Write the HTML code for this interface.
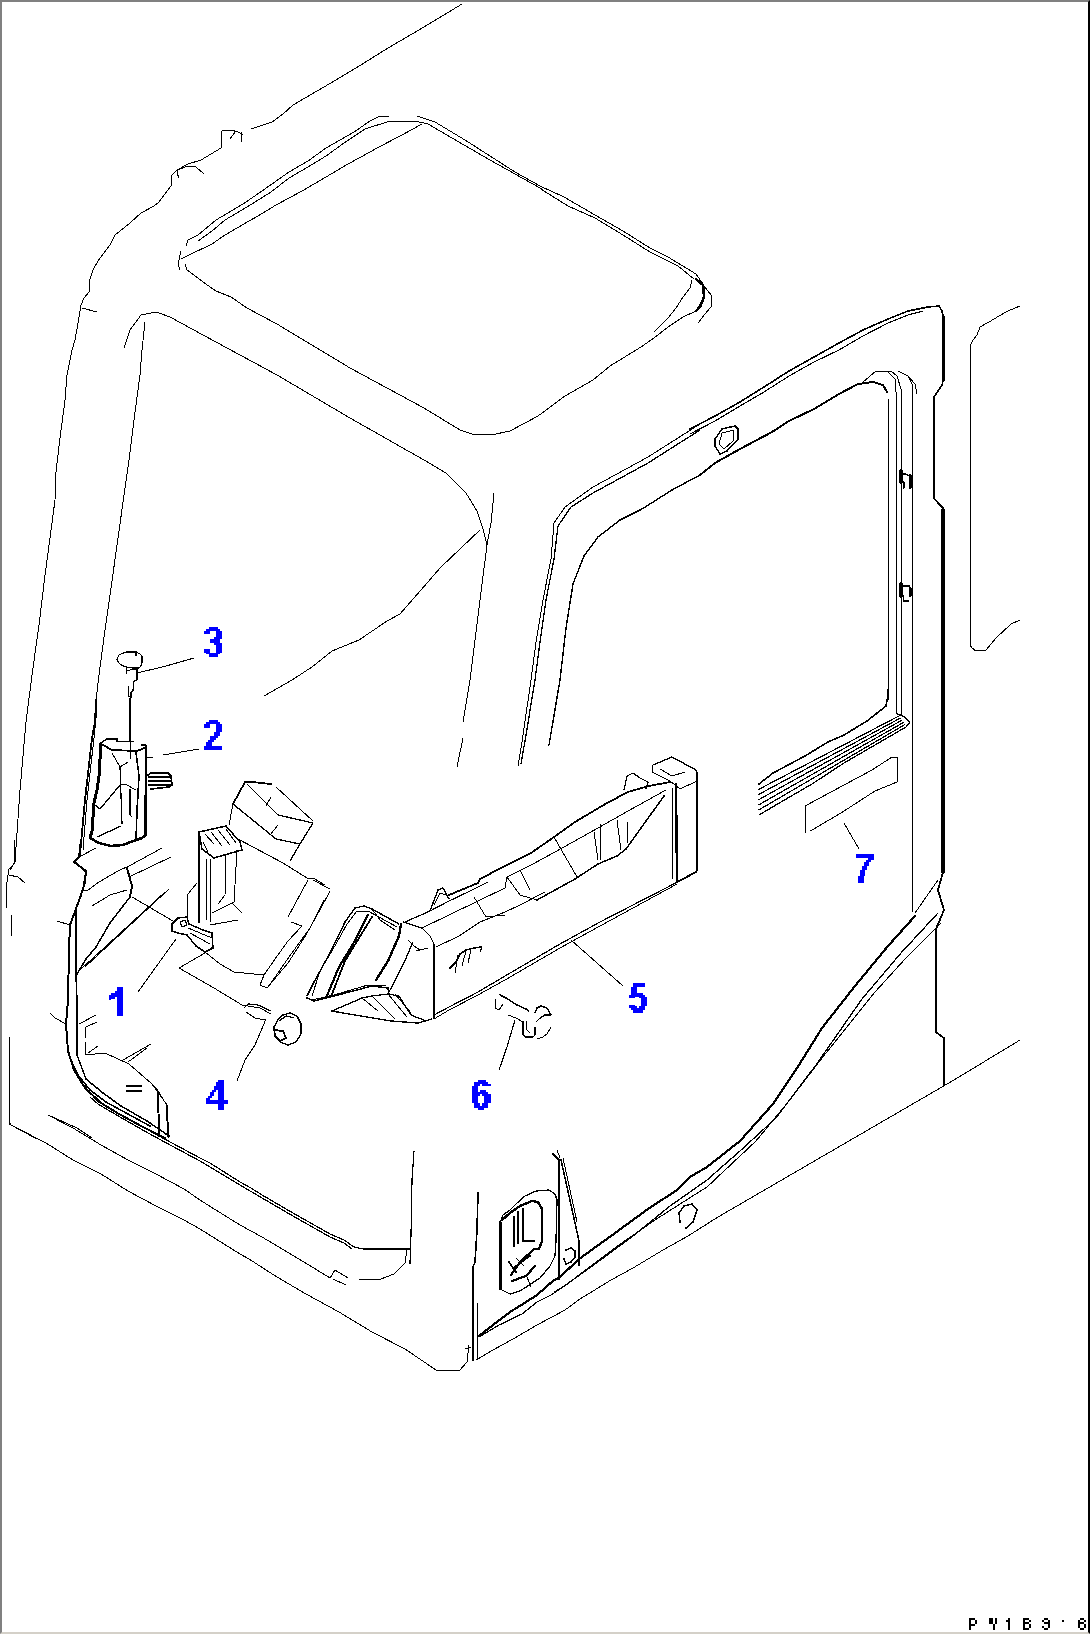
<!DOCTYPE html><html><head><meta charset="utf-8"><style>html,body{margin:0;padding:0;background:#fff}#c{position:relative;width:1090px;height:1634px;overflow:hidden;box-sizing:border-box;border-top:2px solid #808080;border-left:2px solid #808080;border-right:2px solid #000;border-bottom:2px solid #d4d0c8}svg{position:absolute;left:-2px;top:-2px}.n{font-family:"Liberation Sans",sans-serif;font-weight:bold;fill:#0000ff;font-size:42px}</style></head><body><div id="c"><svg width="1090" height="1634" viewBox="0 0 1090 1634"><g fill="none" stroke="#000" stroke-linejoin="round" stroke-linecap="round" shape-rendering="crispEdges">
<polyline points="462,4 419,30 388,48 356,68 324,87 293,105 283,114 272,122 251,129" stroke-width="1.0"/>
<polyline points="243,135 238,132 231,130 222,131 221,132 221,140" stroke-width="1.0"/>
<polyline points="241,132 241,142" stroke-width="1.0"/>
<polyline points="230,139 235,132" stroke-width="1.0"/>
<polyline points="177,173 178,170 187,166 196,167 204,174" stroke-width="1.0"/>
<polyline points="177,173 179,178" stroke-width="1.0"/>
<polyline points="221,140 221,148 201,160 188,164 177,170 172,175 171,186 168,190 159,202 154,206 141,213 130,223 115,235 110,245 98,261 93,270 90,279 89,292 84,298 81,305 78,323 75,340 72,350 67,375 65,400 60,438 56,472 55,500 50,538 45,575 39,625 32,675 26,722 20,790 15,862 10,870" stroke-width="1.0"/>
<polyline points="82,308 97,312" stroke-width="1.0"/>
<polyline points="186,246 188,240 198,235 216,220 243,204 262,191 289,172 308,161 326,148 354,132 370,121 380,116 389,116" stroke-width="1.0"/>
<polyline points="417,116 435,122 465,140 515,172 540,186 564,197 595,215 623,231 650,248 668,257 696,274 703,284" stroke-width="1.0"/>
<polyline points="198,241 212,231 225,220 247,207 271,192 289,178 308,167 326,156 344,143 365,129 390,121 415,121 428,124 452,138 490,160 540,188 544,191 568,206 595,218 623,235 650,252 678,266 694,279" stroke-width="1.0"/>
<polyline points="181,259 187,256 212,244 225,235 249,221 258,216 276,205 302,191 326,177 348,164 370,152 377,148 402,135 422,124" stroke-width="1.0"/>
<polyline points="181,251 178,264 180,270" stroke-width="1.0"/>
<polyline points="185,264 187,270 194,275 203,282 216,291 231,297 247,308 260,315 277,324 350,368 424,408 460,430 472,434 491,435 510,431 538,416 565,396 593,380 610,366 641,347 654,338 668,327 683,317 696,311 704,297 703,285" stroke-width="1.0"/>
<polyline points="703,285 712,296 711,307 705,314 698,323" stroke-width="1.0"/>
<polyline points="696,279 703,285 704,297 700,307 696,311" stroke-width="2.5"/>
<polyline points="692,280 690,288 683,297 676,308 668,318 654,332" stroke-width="1.0"/>
<polyline points="124,348 130,330 141,315 156,312 170,317 203,335 277,375 350,418 424,460 446,473 466,493 477,511 483,529 487,545" stroke-width="1.0"/>
<polyline points="145,322 142,350 140,375 135,412 129,460 125,488 118,538 111,588 105,630 99,675 96,700" stroke-width="1.0"/>
<polyline points="96,700 95,722 92,738 85,800 80,855 75,862 86,872 84,883" stroke-width="1.8"/>
<polyline points="97,708 94,738 87,800 83,850" stroke-width="1.0"/>
<polyline points="494,493 491,523 487,545 480,600 470,680 463,722" stroke-width="1.0"/>
<polyline points="463,738 457,767" stroke-width="1.0"/>
<polyline points="480,530 441,567 400,614 387,621 359,640 332,651 312,667 292,680 264,696" stroke-width="1.0"/>
<polyline points="700,424 648,457 593,487 565,507 554,523 551,559 543,600 536,642 531,680 522,742 518,766" stroke-width="1.0"/>
<polyline points="700,430 648,463 593,493 571,507 558,526 554,559 546,600 540,642 535,680 526,735 521,764" stroke-width="1.3"/>
<polyline points="700,475 672,490 642,509 620,520 598,537 584,556 573,584 566,628 560,680 549,745" stroke-width="1.4"/>
<polyline points="690,429 715,416 740,402 764,387 789,371 814,357 839,343 863,330 888,319 908,311 928,307 939,306 942,311 943,316 943,381 942,385 936,394 934,397 934,498 938,503 943,508 943,872" stroke-width="1.6"/>
<polyline points="943,510 943,872" stroke-width="3.5"/>
<polyline points="943.5,316 943.5,381" stroke-width="2"/>
<polyline points="690,434 715,421 740,406 764,392 789,376 814,362 839,350 863,336 888,323 908,315 923,311" stroke-width="1.1"/>
<polyline points="700,475 715,463 740,449 772,432 789,421 814,409 839,394 858,384 873,382 883,385 887,392" stroke-width="2"/>
<polyline points="888,399 888,690" stroke-width="1.0"/>
<polyline points="863,382 876,371 891,371 897,376 901,389 902,716" stroke-width="1.0"/>
<polyline points="888,372 895,379 896,392 896,714" stroke-width="1.0"/>
<polyline points="898,371 908,376 912,384 912,912" stroke-width="1.0"/>
<polyline points="908,376 915,384 917,394" stroke-width="1.0"/>
<polyline points="715,439 722,429 735,426 738,429 738,439 727,451 720,454 715,446 715,439" stroke-width="1.5"/>
<polyline points="722,433 734,430 733,441 724,449 719,444 722,433" stroke-width="1.0"/>
<polyline points="1020,306 1008,311 999,316 989,322 980,327 977,335 973,340 970,346 970,645 972,648 976,651 986,650 996,638 1011,624 1020,620" stroke-width="1.0"/>
<polyline points="888,690 888,699 887,700 886,706 867,721 844,735 828,742 805,756 773,773 759,784" stroke-width="1.6"/>
<polyline points="759,815 781,802 812,784 844,763 875,745 906,727 910,722 903,716 897,714" stroke-width="1.3"/>
<polyline points="759,789.2 898.5,716.2" stroke-width="1.2"/>
<polyline points="759,794.3 900.0,718.3" stroke-width="1.2"/>
<polyline points="759,799.5 901.5,720.5" stroke-width="1.2"/>
<polyline points="759,804.7 903.0,722.7" stroke-width="1.2"/>
<polyline points="759,809.8 904.5,724.8" stroke-width="1.2"/>
<polyline points="805,833 805,806 844,785 872,770 892,757 897,757 897,780 897,782 875,791 841,813 812,830 810,831" stroke-width="1.0"/>
<polyline points="844,823 859,849" stroke-width="1.0"/>
<polyline points="653,765 672,757 696,770 697,773 697,871 677,882" stroke-width="1.3"/>
<polyline points="653,765 652,772 670,781 680,789 697,781" stroke-width="1.0"/>
<polyline points="676,784 677,882" stroke-width="2.4"/>
<polyline points="672,788 672,879" stroke-width="1.0"/>
<polyline points="660,769 672,776 685,772" stroke-width="1.0"/>
<polyline points="405,922 430,911 449,901 468,892 488,882" stroke-width="1.2"/>
<polyline points="449,895 478,883 480,879 501,868 531,853 554,837 575,822 607,803 628,792 649,786 670,782" stroke-width="1.8"/>
<polyline points="422,928 449,915 478,901 505,888 507,877 533,864 564,847 598,828 628,811 666,790" stroke-width="1.0"/>
<polyline points="436,947 459,936 480,922 505,912 520,905 545,892" stroke-width="1.0"/>
<polyline points="474,897 486,917 505,915" stroke-width="1.0"/>
<polyline points="537,900 575,879 598,864 617,856 626,849 664,796" stroke-width="1.5"/>
<polyline points="554,837 577,877" stroke-width="1.0"/>
<polyline points="594,832 598,860" stroke-width="1.0"/>
<polyline points="600,824 600,860" stroke-width="1.0"/>
<polyline points="617,820 621,850" stroke-width="1.0"/>
<polyline points="627,822 628,843" stroke-width="1.0"/>
<polyline points="507,877 520,895 537,900" stroke-width="1.0"/>
<polyline points="520,870 530,890" stroke-width="1.0"/>
<polyline points="430,911 438,890 443,888 449,899" stroke-width="1.4"/>
<polyline points="434,905 440,893 446,895" stroke-width="1.0"/>
<polyline points="624,790 627,776 633,773 640,778 648,782 646,789" stroke-width="1.3"/>
<polyline points="403,922 422,928 430,936 434,944 434,1019" stroke-width="1.3"/>
<polyline points="434,1015 449,1007 478,992 505,976 560,944 600,922 697,872" stroke-width="1.2"/>
<polyline points="434,1019 449,1010 478,995 505,980 560,948 600,926 677,884" stroke-width="1.0"/>
<polyline points="307,996 314,982 330,953 345,922 355,908 364,906 372,909 399,924" stroke-width="1.4"/>
<polyline points="312,996 320,971 336,944 347,924 357,911 368,911 397,927" stroke-width="1.0"/>
<polyline points="326,998 339,967 353,944 368,915" stroke-width="2.2"/>
<polyline points="332,994 345,961 359,938 372,917" stroke-width="1.8"/>
<polyline points="401,924 399,936 388,961 376,980" stroke-width="2.4"/>
<polyline points="413,942 403,965 389,992" stroke-width="1.3"/>
<polyline points="307,998 314,1001 334,996 372,986 388,988 389,994" stroke-width="1.5"/>
<polyline points="312,1000 334,995 368,985 386,985" stroke-width="1.0"/>
<polyline points="332,1011 362,998 372,996 388,994 399,996 411,1015 426,1021" stroke-width="1.3"/>
<polyline points="332,1011 343,1013 391,1021 418,1023 432,1019" stroke-width="1.4"/>
<polyline points="362,998 378,1011" stroke-width="1.0"/>
<polyline points="372,996 395,1019" stroke-width="1.0"/>
<polyline points="388,994 407,1017" stroke-width="1.0"/>
<polyline points="395,994 411,1013" stroke-width="1.0"/>
<polyline points="372,909 380,920 395,930" stroke-width="1.0"/>
<polyline points="408,940 414,946 420,950" stroke-width="1.0"/>
<polyline points="416,951 428,948" stroke-width="1.0"/>
<polyline points="450,968 456,962 460,954 466,950 474,948 481,947" stroke-width="1.6"/>
<polyline points="455,973 458,955" stroke-width="1.0"/>
<polyline points="462,966 466,951" stroke-width="1.0"/>
<polyline points="468,963 471,950" stroke-width="1.0"/>
<polyline points="480,952 482,947" stroke-width="1.0"/>
<polyline points="571,940 623,986" stroke-width="1.0"/>
<polyline points="101,743 107,739 117,739 117,741.5 133,741.5" stroke-width="1.4"/>
<polyline points="141,745 146,745 146,826" stroke-width="1.3"/>
<polyline points="145,796 146,835" stroke-width="3"/>
<polyline points="101,743 99,776 97,790 94,803 92,831 90,838" stroke-width="3"/>
<polyline points="90,838 99,843 111,846 123,845 136,840 142,838 146,835" stroke-width="2.6"/>
<polyline points="103,745 112,750 136,751 140,750 144,748" stroke-width="1.8"/>
<polyline points="112,753 120,767 128,762" stroke-width="1.0"/>
<polyline points="120,767 122,824" stroke-width="1.2"/>
<polyline points="130,741 130,759" stroke-width="1.0"/>
<polyline points="120,785 125,784 136,790" stroke-width="1.0"/>
<polyline points="130,789 130,815 132,817" stroke-width="1.3"/>
<polyline points="136,752 139,776 137,811 136,840" stroke-width="1.6"/>
<polyline points="120,785 100,809 95,805" stroke-width="1.3"/>
<polyline points="97,837 121,826" stroke-width="1.3"/>
<polyline points="148,775 151,773 168,773 171,776 172,785 169,787 151,789" stroke-width="1.6"/>
<polyline points="149,777 169,777" stroke-width="2.5"/>
<polyline points="149,781 170,781" stroke-width="2.5"/>
<polyline points="149,785 170,785" stroke-width="2.5"/>
<polyline points="146,757 153,757" stroke-width="1.0"/>
<polyline points="163,755 199,749" stroke-width="1.0"/>
<polyline points="233,804 245,782 252,782 271,784" stroke-width="1.8"/>
<polyline points="247,784 278,815 313,823" stroke-width="1.3"/>
<polyline points="276,787 313,821" stroke-width="1.0"/>
<polyline points="233,804 276,839 300,844" stroke-width="1.3"/>
<polyline points="233,804 229,825" stroke-width="1.0"/>
<polyline points="313,823 300,844 290,861" stroke-width="1.3"/>
<polyline points="271,797 266,806" stroke-width="1.0"/>
<polyline points="278,825 270,835" stroke-width="1.0"/>
<polyline points="238,839 283,863 307,878 313,878 325,885" stroke-width="1.0"/>
<polyline points="199,832 226,826 240,842 242,850 214,858 202,849 199,832" stroke-width="1.5"/>
<polyline points="205,834 214,844" stroke-width="1.0"/>
<polyline points="211,832 222,846" stroke-width="1.0"/>
<polyline points="218,830 230,845" stroke-width="1.0"/>
<polyline points="226,829 236,843" stroke-width="1.0"/>
<polyline points="203,842 208,852" stroke-width="1.0"/>
<polyline points="199,832 199,922" stroke-width="2.2"/>
<polyline points="206,858 207,920" stroke-width="1.0"/>
<polyline points="210,857 211,922" stroke-width="1.0"/>
<polyline points="226,854 225,895 218,904" stroke-width="1.0"/>
<polyline points="237,850 234,902 212,913" stroke-width="1.0"/>
<polyline points="210,925 238,920" stroke-width="1.0"/>
<polyline points="232,903 242,913" stroke-width="1.0"/>
<polyline points="197,883 188,894 187,918" stroke-width="1.0"/>
<polyline points="15,840 14,864 9,869 6,888 7,908" stroke-width="1.0"/>
<polyline points="9,875 18,877 25,883" stroke-width="1.0"/>
<polyline points="11,915 11,936" stroke-width="1.0"/>
<polyline points="9,1037 9,1121 11,1125 37,1139" stroke-width="1.0"/>
<polyline points="48,1115 77,1128 92,1138" stroke-width="1.0"/>
<polyline points="81,840 79,857 74,862 86,871 85,882 81,895 77,906 70,925 69,950 68,1000 66,1024 68,1051 74,1070 85,1088 101,1103 119,1114 143,1127 165,1138" stroke-width="2"/>
<polyline points="76,910 76,976 77,1000 77,1055 86,1079 103,1093 121,1106 147,1121 169,1136" stroke-width="1.5"/>
<polyline points="71,1060 78,1075 90,1090 106,1102 126,1113 150,1126" stroke-width="1.5"/>
<polyline points="50,1013 55,1018 66,1024" stroke-width="1.0"/>
<polyline points="57,921 70,925" stroke-width="1.0"/>
<polyline points="96,848 79,857" stroke-width="1.0"/>
<polyline points="162,848 129,866 118,871 99,882 88,890 81,891" stroke-width="1.0"/>
<polyline points="171,857 129,877" stroke-width="1.0"/>
<polyline points="127,868 132,886 130,897" stroke-width="2"/>
<polyline points="92,906 110,895 127,890" stroke-width="1.0"/>
<polyline points="130,897 110,923 96,947 86,959 77,974" stroke-width="1.5"/>
<polyline points="169,889 85,967" stroke-width="1.0"/>
<polyline points="165,892 81,969" stroke-width="1.0"/>
<polyline points="132,897 173,921" stroke-width="1.0"/>
<polyline points="138,992 176,939" stroke-width="1.0"/>
<polyline points="79,1024 96,1015" stroke-width="1.0"/>
<polyline points="85,1038 86,1027 97,1022" stroke-width="1.0"/>
<polyline points="85,1042 85,1055 105,1053 129,1064 152,1084 158,1092 167,1105 169,1138" stroke-width="1.0"/>
<polyline points="158,1092 160,1134" stroke-width="1.0"/>
<polyline points="123,1060 151,1044" stroke-width="1.0"/>
<polyline points="128,1062 147,1048" stroke-width="1.0"/>
<polyline points="88,1053 98,1046" stroke-width="1.0"/>
<polyline points="127,1086 141,1086" stroke-width="1.6"/>
<polyline points="127,1091 141,1091" stroke-width="1.6"/>
<polyline points="172,924 178,918 187,917 189,924 203,930 212,933 213,948 205,952 196,946 187,935 178,933 172,931 172,924" stroke-width="1.5"/>
<polyline points="180,922 185,920 187,925 182,927 180,922" stroke-width="1.0"/>
<polyline points="188,928 212,938" stroke-width="1.0"/>
<polyline points="190,933 210,944" stroke-width="1.0"/>
<polyline points="179,968 205,953 214,946" stroke-width="1.0"/>
<polyline points="179,968 214,988 242,1005 260,1008 271,1014" stroke-width="1.0"/>
<polyline points="205,952 220,964 234,972 264,975" stroke-width="1.0"/>
<polyline points="260,985 264,975 275,959 288,941 302,926" stroke-width="1.0"/>
<polyline points="267,988 288,963 306,935 321,908 330,891" stroke-width="1.0"/>
<polyline points="271,983 289,957 310,928 324,900" stroke-width="1.0"/>
<polyline points="288,917 308,880" stroke-width="1.0"/>
<polyline points="291,922 302,926" stroke-width="1.0"/>
<polyline points="313,880 330,889" stroke-width="1.0"/>
<polyline points="260,985 267,988" stroke-width="1.0"/>
<polyline points="244,1008 248,1004 258,1005 271,1011" stroke-width="1.3"/>
<polyline points="246,1012 255,1018 265,1020" stroke-width="1.0"/>
<polyline points="279,1018 283,1015 290,1013 297,1016 301,1024 301,1034 296,1042 288,1045 280,1042 275,1035 274,1027 279,1018" stroke-width="1.4"/>
<polyline points="279,1021 286,1016 294,1018" stroke-width="1.2"/>
<polyline points="274,1030 283,1031 286,1038 280,1041 275,1036" stroke-width="1.8"/>
<polyline points="266,1019 255,1045 245,1060 237,1081" stroke-width="1.0"/>
<polyline points="150,1082 157,1089 166,1104 168,1137" stroke-width="1.0"/>
<polyline points="157,1089 159,1137" stroke-width="1.0"/>
<polyline points="9,1080 9,1124 46,1143 73,1160 101,1174 128,1191 156,1206 184,1220 200,1229 240,1254 249,1259 277,1277 306,1294 339,1312 372,1332 405,1349 436,1370 460,1370 467,1362 469,1345" stroke-width="1.0"/>
<polyline points="48,1115 73,1128 101,1145 128,1160 156,1174 184,1189 200,1200 211,1207 240,1225 251,1231 262,1237 304,1262 330,1278 335,1270 348,1278" stroke-width="1.0"/>
<polyline points="333,1279 346,1285" stroke-width="1.0"/>
<polyline points="359,1280 381,1279 394,1274 405,1263 407,1250" stroke-width="1.0"/>
<polyline points="79,1080 88,1090 97,1101 119,1114 148,1130 172,1143 200,1158 210,1163 240,1182 251,1188 262,1195 293,1213 330,1234 344,1240 354,1247 363,1249 410,1249" stroke-width="1.2"/>
<polyline points="90,1097 98,1104 120,1117 148,1133 172,1146 200,1161 240,1185 262,1198 293,1216 330,1237 344,1243 352,1249" stroke-width="1.2"/>
<polyline points="414,1151 412,1180 411,1235 410,1264" stroke-width="1.2"/>
<polyline points="400,1248 409,1250" stroke-width="1.0"/>
<polyline points="478,1193 477,1230 475,1262 473,1267 473,1360" stroke-width="1.6"/>
<polyline points="477.6,1303 477.6,1360" stroke-width="1.0"/>
<polyline points="465,1349 471,1347" stroke-width="1.0"/>
<polyline points="476,1360 493,1350 513,1339 537,1325 565,1310 580,1299 611,1280 633,1268 663,1250 688,1236 718,1217 954,1080 1020,1040" stroke-width="1.0"/>
<polyline points="479,1336 493,1325 510,1312 523,1304 537,1295 554,1280 559,1278 579,1259 611,1236 648,1209 677,1190 690,1177 707,1167 740,1141 773,1104 799,1065 822,1028 855,986 888,946 915,916" stroke-width="2.2"/>
<polyline points="479,1337 499,1325 522,1314 537,1302 551,1295 560,1289 595,1264 633,1236 670,1206 690,1192 707,1180 740,1151 776,1118 816,1065 862,999 901,953 938,913" stroke-width="1.3"/>
<polyline points="554,1292 565,1286 579,1275 619,1245 655,1220 699,1192 707,1187 756,1141 789,1101 822,1058 875,992 905,959 941,923" stroke-width="1.1"/>
<polyline points="938,880 915,913" stroke-width="1.0"/>
<polyline points="943,872 938,890 944,910 936,929 936,1032 944,1038 944,1085" stroke-width="1.8"/>
<polyline points="500,1288 500,1223 503,1215 510,1210 517,1203 525,1196 536,1191 549,1190 555,1194 557,1200 556,1241 555,1256 550,1266 540,1278 520,1291 510,1294 502,1290 500,1288" stroke-width="1.3"/>
<polyline points="500,1222 500,1289" stroke-width="3"/>
<polyline points="502,1220 510,1213 520,1206 532,1201 538,1202 542,1209 542,1241 539,1249 534,1249" stroke-width="2.4"/>
<polyline points="514,1217 514,1246" stroke-width="2"/>
<polyline points="518,1211 518,1244" stroke-width="1.2"/>
<polyline points="523,1209 523,1241 534,1241" stroke-width="1.5"/>
<polyline points="511,1275 520,1262 533,1250" stroke-width="2.2"/>
<polyline points="513,1268 530,1256" stroke-width="1.6"/>
<polyline points="512,1281 526,1276 535,1266" stroke-width="2.2"/>
<polyline points="509,1262 516,1272" stroke-width="1.6"/>
<polyline points="516,1258 524,1266" stroke-width="1.0"/>
<polyline points="527,1277 531,1287" stroke-width="1.0"/>
<polyline points="553,1154 559,1160 559,1279" stroke-width="1.6"/>
<polyline points="557,1150 560,1158" stroke-width="1.0"/>
<polyline points="561,1160 579,1241 579,1265" stroke-width="1.6"/>
<polyline points="563,1158 577,1222" stroke-width="1.0"/>
<polyline points="566,1250 571,1248 575,1251 575,1257 571,1262 566,1264 564,1259" stroke-width="1.5"/>
<polyline points="680,1222 679,1213 684,1206 692,1204 697,1210 693,1222 686,1228" stroke-width="1.5"/>
<polyline points="119,655 117,659 118,662 121,665 126,667 133,668 139,668 141,666 142,662 142,656 140,654 136,652 128,652 123,653 119,655" stroke-width="1.3"/>
<polyline points="127,652 136,652 136,655" stroke-width="2.2"/>
<polyline points="126,667 126,674" stroke-width="1.0"/>
<polyline points="137,668 137,680 134,681 133,691 131,692 131,698 130,698 130,741" stroke-width="1.3"/>
<polyline points="128,686 128,696 131,697" stroke-width="1.0"/>
<polyline points="126,671 130,670 136,669" stroke-width="1.0"/>
<polyline points="137,673 158,668 166,666 194,658" stroke-width="1.0"/>
<polyline points="500,995 506,998 517,1005 526,1009 529,1011" stroke-width="1.4"/>
<polyline points="495,999 495,1008 499,1010 503,1004" stroke-width="1.0"/>
<polyline points="508,1015 516,1018 523,1022" stroke-width="1.0"/>
<polyline points="523,1022 523,1035 526,1037 533,1037 535,1035 535,1028" stroke-width="1.4"/>
<polyline points="526,1021 527,1030 530,1033" stroke-width="1.0"/>
<polyline points="535,1013 537,1008 541,1006 547,1008 551,1015 545,1015 540,1018 536,1022" stroke-width="1.4"/>
<polyline points="551,1027 547,1034 543,1037 537,1039" stroke-width="1.0"/>
<polyline points="515,1020 509,1040 507,1047 499,1070" stroke-width="1.2"/>
<polyline points="901,471 901,482" stroke-width="3.5"/>
<polyline points="903.5,482 903.5,488" stroke-width="2"/>
<polyline points="910,475 910,488" stroke-width="3"/>
<polyline points="903,474 906,474 909,476" stroke-width="1.2"/>
<polyline points="901,584 901,596" stroke-width="3.5"/>
<polyline points="903.5,596 903.5,601 908,601" stroke-width="1.5"/>
<polyline points="910,588 910,596" stroke-width="3"/>
<polyline points="903,586 909,586" stroke-width="1.5"/>
</g>
<path fill="#0000ff" shape-rendering="crispEdges" d="M117 987H123V1016H117ZM115 991H117V997H115ZM111 993H115V999H111ZM109 995H111V1000H109ZM209 627H218V629H209ZM206 629H220V631H206ZM204 631H210V634H204ZM216 631H222V637H216ZM214 637H222V639H214ZM210 639H220V643H210ZM214 643H222V645H214ZM216 645H222V653H216ZM204 649H210V653H204ZM206 653H220V654H206ZM209 654H218V657H209ZM209 720H218V722H209ZM206 722H220V724H206ZM204 724H210V728H204ZM216 724H222V732H216ZM214 732H220V736H214ZM210 736H218V738H210ZM210 738H216V740H210ZM208 740H214V742H208ZM206 742H212V746H206ZM204 746H222V750H204ZM218 1080H224V1110H218ZM206 1100H228V1104H206ZM216 1082H218V1090H216ZM214 1086H218V1090H214ZM212 1090H216V1092H212ZM210 1092H214V1096H210ZM208 1096H212V1098H208ZM206 1098H210V1100H206ZM633 983H645V987H633ZM631 987H637V993H631ZM631 993H643V995H631ZM629 995H645V997H629ZM629 997H635V998H629ZM639 997H647V998H639ZM641 998H647V1006H641ZM629 1005H635V1006H629ZM629 1006H637V1008H629ZM639 1006H645V1008H639ZM631 1008H645V1010H631ZM633 1010H643V1013H633ZM478 1080H486V1082H478ZM474 1082H488V1084H474ZM474 1084H480V1086H474ZM482 1084H491V1086H482ZM472 1086H478V1092H472ZM480 1090H486V1092H480ZM472 1092H488V1094H472ZM472 1094H480V1096H472ZM482 1094H491V1096H482ZM472 1096H478V1103H472ZM484 1096H491V1103H484ZM474 1103H480V1106H474ZM482 1103H488V1106H482ZM474 1106H488V1108H474ZM478 1108H484V1110H478ZM856 854H874V858H856ZM868 858H874V860H868ZM866 860H871V862H866ZM864 862H869V866H864ZM862 866H867V870H862ZM860 870H865V876H860ZM858 876H864V883H858Z"/>
<path fill="#000" shape-rendering="crispEdges" d="M969 1618h2v2h-2ZM971 1618h2v2h-2ZM973 1618h2v2h-2ZM969 1620h2v2h-2ZM975 1620h2v2h-2ZM969 1622h2v2h-2ZM975 1622h2v2h-2ZM969 1624h2v2h-2ZM971 1624h2v2h-2ZM973 1624h2v2h-2ZM969 1626h2v2h-2ZM969 1628h2v2h-2ZM989 1618h2v2h-2ZM991 1618h2v2h-2ZM995 1618h2v2h-2ZM989 1620h2v2h-2ZM991 1620h2v2h-2ZM995 1620h2v2h-2ZM989 1622h2v2h-2ZM991 1622h2v2h-2ZM995 1622h2v2h-2ZM993 1624h2v2h-2ZM993 1626h2v2h-2ZM993 1628h2v2h-2ZM1008 1618h2v2h-2ZM1006 1620h2v2h-2ZM1008 1620h2v2h-2ZM1008 1622h2v2h-2ZM1008 1624h2v2h-2ZM1008 1626h2v2h-2ZM1008 1628h2v2h-2ZM1023 1618h2v2h-2ZM1025 1618h2v2h-2ZM1027 1618h2v2h-2ZM1023 1620h2v2h-2ZM1029 1620h2v2h-2ZM1023 1622h2v2h-2ZM1025 1622h2v2h-2ZM1027 1622h2v2h-2ZM1023 1624h2v2h-2ZM1029 1624h2v2h-2ZM1023 1626h2v2h-2ZM1029 1626h2v2h-2ZM1023 1628h2v2h-2ZM1025 1628h2v2h-2ZM1027 1628h2v2h-2ZM1044 1618h2v2h-2ZM1046 1618h2v2h-2ZM1042 1620h2v2h-2ZM1048 1620h2v2h-2ZM1044 1622h2v2h-2ZM1046 1622h2v2h-2ZM1048 1622h2v2h-2ZM1048 1624h2v2h-2ZM1042 1626h2v2h-2ZM1048 1626h2v2h-2ZM1044 1628h2v2h-2ZM1046 1628h2v2h-2ZM1080 1618h2v2h-2ZM1082 1618h2v2h-2ZM1078 1620h2v2h-2ZM1084 1620h2v2h-2ZM1078 1622h2v2h-2ZM1080 1622h2v2h-2ZM1082 1622h2v2h-2ZM1078 1624h2v2h-2ZM1084 1624h2v2h-2ZM1078 1626h2v2h-2ZM1084 1626h2v2h-2ZM1080 1628h2v2h-2ZM1082 1628h2v2h-2ZM1062 1620h2v2h-2Z"/>
</svg></div></body></html>
